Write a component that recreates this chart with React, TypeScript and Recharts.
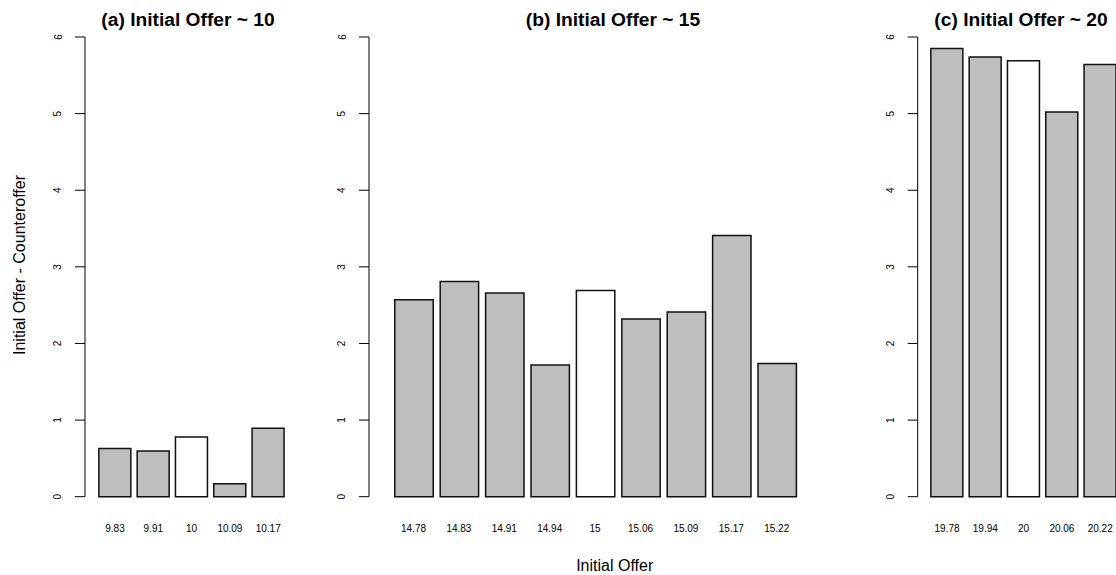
import { BarChart, Bar, XAxis, YAxis, Cell } from 'recharts'

const offersA = ['9.83', '9.91', '10', '10.09', '10.17']
const diffsA = [0.63, 0.595, 0.78, 0.17, 0.895]
const offersB = ['14.78', '14.83', '14.91', '14.94', '15', '15.06', '15.09', '15.17', '15.22']
const diffsB = [2.57, 2.81, 2.66, 1.72, 2.69, 2.32, 2.41, 3.41, 1.74]
const offersC = ['19.78', '19.94', '20', '20.06', '20.22']
const diffsC = [5.85, 5.74, 5.69, 5.02, 5.64]

const yTicks = [0, 1, 2, 3, 4, 5, 6]

const FONT = '"Liberation Sans", Arial, Helvetica, sans-serif'
const PLOT_TOP = 37
const PLOT_BOTTOM = 496.7
const H = 575

type Panel = {
  title: string
  offers: string[]
  diffs: number[]
  base: string
  left: number      // div left
  axisX: number     // y axis line position
  barStart: number  // left edge of first bar
  pitch: number
  barW: number
  plotRight: number
  titleX: number
}

const panels: Panel[] = [
  { title: '(a) Initial Offer ~ 10', offers: offersA, diffs: diffsA, base: '10',
    left: 0, axisX: 85, barStart: 99, pitch: 38.3, barW: 32, plotRight: 297, titleX: 188 },
  { title: '(b) Initial Offer ~ 15', offers: offersB, diffs: diffsB, base: '15',
    left: 320, axisX: 369, barStart: 394.3, pitch: 45.4, barW: 38.4, plotRight: 810, titleX: 613 },
  { title: '(c) Initial Offer ~ 20', offers: offersC, diffs: diffsC, base: '20',
    left: 860, axisX: 917.7, barStart: 931, pitch: 38.3, barW: 32, plotRight: 1124, titleX: 1021 },
]

const XTick = ({ x, y, payload }: any) => (
  <text x={x} y={y + 35.6} textAnchor="middle" fontSize={10} fontFamily={FONT} fill="#000">
    {payload.value}
  </text>
)

const YTick = ({ x, y, payload }: any) => {
  const bx = x - 13.5
  return (
    <text x={bx} y={y} transform={`rotate(-90 ${bx} ${y})`} textAnchor="middle"
      fontSize={10} fontFamily={FONT} fill="#000">
      {payload.value}
    </text>
  )
}

function PanelChart({ p }: { p: Panel }) {
  const data = p.offers.map((o, i) => ({ offer: o, diff: p.diffs[i] }))
  const yw = 40
  const ml = p.axisX - p.left - yw
  const width = p.plotRight - p.left
  const plotW = p.plotRight - p.axisX
  const bandStart = p.barStart - (p.pitch - p.barW) / 2
  const padL = bandStart - p.axisX
  const padR = plotW - padL - p.pitch * p.offers.length
  const xh = 30
  return (
    <div style={{ position: 'absolute', left: p.left, top: 0 }}>
      <BarChart width={width} height={H} data={data}
        margin={{ top: PLOT_TOP, right: 0, left: ml, bottom: H - PLOT_BOTTOM - xh }}>
        <XAxis dataKey="offer" height={xh} axisLine={false} tickLine={false} tickSize={0}
          tickMargin={0} interval={0} padding={{ left: padL, right: padR }} tick={<XTick />} />
        <YAxis type="number" domain={[0, 6]} ticks={yTicks} width={yw} interval={0}
          axisLine={{ stroke: '#000' }} tickLine={{ stroke: '#000' }} tickSize={10} tickMargin={0}
          tick={<YTick />} />
        <Bar dataKey="diff" barSize={p.barW} stroke="#111" strokeWidth={1.5} isAnimationActive={false}>
          {data.map(d => (
            <Cell key={d.offer} fill={d.offer === p.base ? '#ffffff' : '#bebebe'} />
          ))}
        </Bar>
      </BarChart>
    </div>
  )
}

export default function App() {
  return (
    <div style={{ position: 'absolute', left: 0, top: 0, width: 1116, height: H, overflow: 'hidden', background: '#fff' }}>
      {panels.map(p => <PanelChart key={p.title} p={p} />)}
      <svg width={1116} height={H} style={{ position: 'absolute', left: 0, top: 0, pointerEvents: 'none' }}>
        {panels.map(p => (
          <text key={p.title} x={p.titleX} y={26} textAnchor="middle" fontSize={19.2}
            fontWeight="bold" fontFamily={FONT} fill="#000">{p.title}</text>
        ))}
        <text x={24.5} y={265} transform="rotate(-90 24.5 265)" textAnchor="middle"
          fontSize={16} fontFamily={FONT} fill="#000">Initial Offer - Counteroffer</text>
        <text x={614.7} y={570.7} textAnchor="middle" fontSize={16} fontFamily={FONT}
          fill="#000">Initial Offer</text>
      </svg>
    </div>
  )
}
